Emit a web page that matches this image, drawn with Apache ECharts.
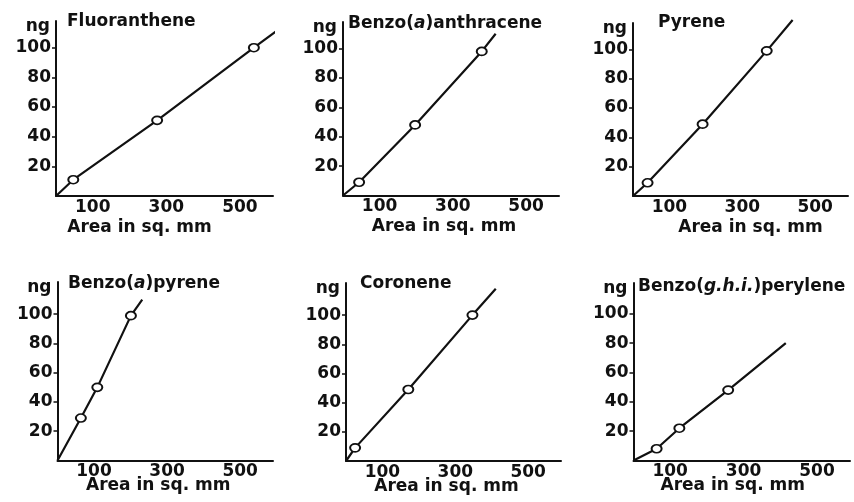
<!DOCTYPE html>
<html>
<head>
<meta charset="utf-8">
<script src="https://cdn.jsdelivr.net/npm/echarts@6/dist/echarts.min.js"></script>
<style>
  html, body { margin: 0; background: #fff; }
  #chart { width: 854px; height: 502px; }
</style>
</head>
<body>
<div id="chart"></div>
<script>
// values
const xTicks = [100, 300, 500]
const yTicks = [20, 40, 60, 80, 100]
const compounds = [
  'Fluoranthene',
  'Benzo({i|a})anthracene',
  'Pyrene',
  'Benzo({i|a})pyrene',
  'Coronene',
  'Benzo({i|g.h.i.})perylene'
]
// area in sq. mm of the measured spots
const areaSqMm = [
  [47, 275, 538],
  [44, 197, 379],
  [40, 191, 367],
  [64, 109, 201],
  [25, 171, 347],
  [63, 125, 258]
]
// amount in ng
const amountNg = [
  [11, 51, 100],
  [9, 48, 98],
  [9, 49, 99],
  [29, 50, 99],
  [9, 49, 100],
  [8, 22, 48]
]
// where the drawn calibration line stops
const lineEndArea = [604, 417, 438, 232, 411, 415]
const lineEndNg = [112, 110, 120, 110, 118, 80]

// layout of the six small plots (pixels)
const panels = [
  { left: 56, top: 21, right: 273, bottom: 196, yMax: 118, titleX: 67, titleY: 13.5, nameShift: -25, nameGap: 23 },
  { left: 343, top: 22, right: 559, bottom: 195.5, yMax: 118, titleX: 348, titleY: 15.5, nameShift: -7, nameGap: 23 },
  { left: 633, top: 23, right: 848, bottom: 196, yMax: 118, titleX: 658, titleY: 14.5, nameShift: 10, nameGap: 23 },
  { left: 57.5, top: 282, right: 273, bottom: 460.5, yMax: 122, titleX: 68, titleY: 275.5, nameShift: -7, nameGap: 17 },
  { left: 346, top: 283, right: 561, bottom: 461, yMax: 122, titleX: 360, titleY: 275.5, nameShift: -7, nameGap: 17 },
  { left: 633.5, top: 283, right: 850, bottom: 460.5, yMax: 121, titleX: 638, titleY: 278, nameShift: -9, nameGap: 17 }
]

const ink = '#111'
const font = 'DejaVu Sans'
const txt = { color: ink, fontFamily: font, fontWeight: 'bold', fontSize: 17 }

const chart = echarts.init(document.getElementById('chart'))

const grid = [], xAxis = [], yAxis = [], series = [], title = []
panels.forEach((p, i) => {
  grid.push({
    left: p.left, top: p.top,
    width: p.right - p.left, height: p.bottom - p.top,
    containLabel: false, outerBoundsMode: 'none'
  })
  const s = p.nameShift
  xAxis.push({
    gridIndex: i, type: 'value', min: 0, max: 590,
    axisLine: { show: true, onZero: false, lineStyle: { color: ink, width: 2 } },
    axisTick: { show: false },
    splitLine: { show: false },
    axisLabel: { ...txt, margin: 3, customValues: xTicks },
    name: 'Area in sq. mm',
    nameLocation: 'middle',
    nameGap: p.nameGap,
    nameMoveOverlap: false,
    nameTextStyle: { ...txt, padding: s < 0 ? [0, -2 * s, 0, 0] : [0, 0, 0, 2 * s] }
  })
  yAxis.push({
    gridIndex: i, type: 'value', min: 0, max: p.yMax,
    axisLine: { show: true, onZero: false, lineStyle: { color: ink, width: 2 } },
    axisTick: { show: true, length: 4, customValues: yTicks, lineStyle: { color: ink, width: 1.5 } },
    splitLine: { show: false },
    axisLabel: { ...txt, margin: 5, customValues: yTicks },
    name: 'ng',
    nameLocation: 'end',
    nameGap: -6,
    nameMoveOverlap: false,
    nameTextStyle: { ...txt, align: 'right', verticalAlign: 'middle', padding: [0, 6, 0, 0] }
  })
  const pts = areaSqMm[i].map((a, k) => [a, amountNg[i][k]])
  series.push({
    type: 'line', xAxisIndex: i, yAxisIndex: i,
    data: [[0, 0], ...pts, [lineEndArea[i], lineEndNg[i]]],
    showSymbol: false, symbol: 'none', clip: false,
    lineStyle: { color: ink, width: 2.2 },
    z: 2
  })
  series.push({
    type: 'scatter', xAxisIndex: i, yAxisIndex: i,
    data: pts,
    symbol: 'circle', symbolSize: [10, 8], clip: false,
    itemStyle: { color: '#fff', borderColor: ink, borderWidth: 1.8, opacity: 1 },
    z: 3
  })
  title.push({
    text: compounds[i],
    left: p.titleX, top: p.titleY, padding: 0,
    textStyle: {
      ...txt,
      rich: { i: { ...txt, fontStyle: 'italic' } }
    }
  })
})

chart.setOption({
  backgroundColor: '#fff',
  animation: false,
  title,
  grid,
  xAxis,
  yAxis,
  series
})
</script>
</body>
</html>
